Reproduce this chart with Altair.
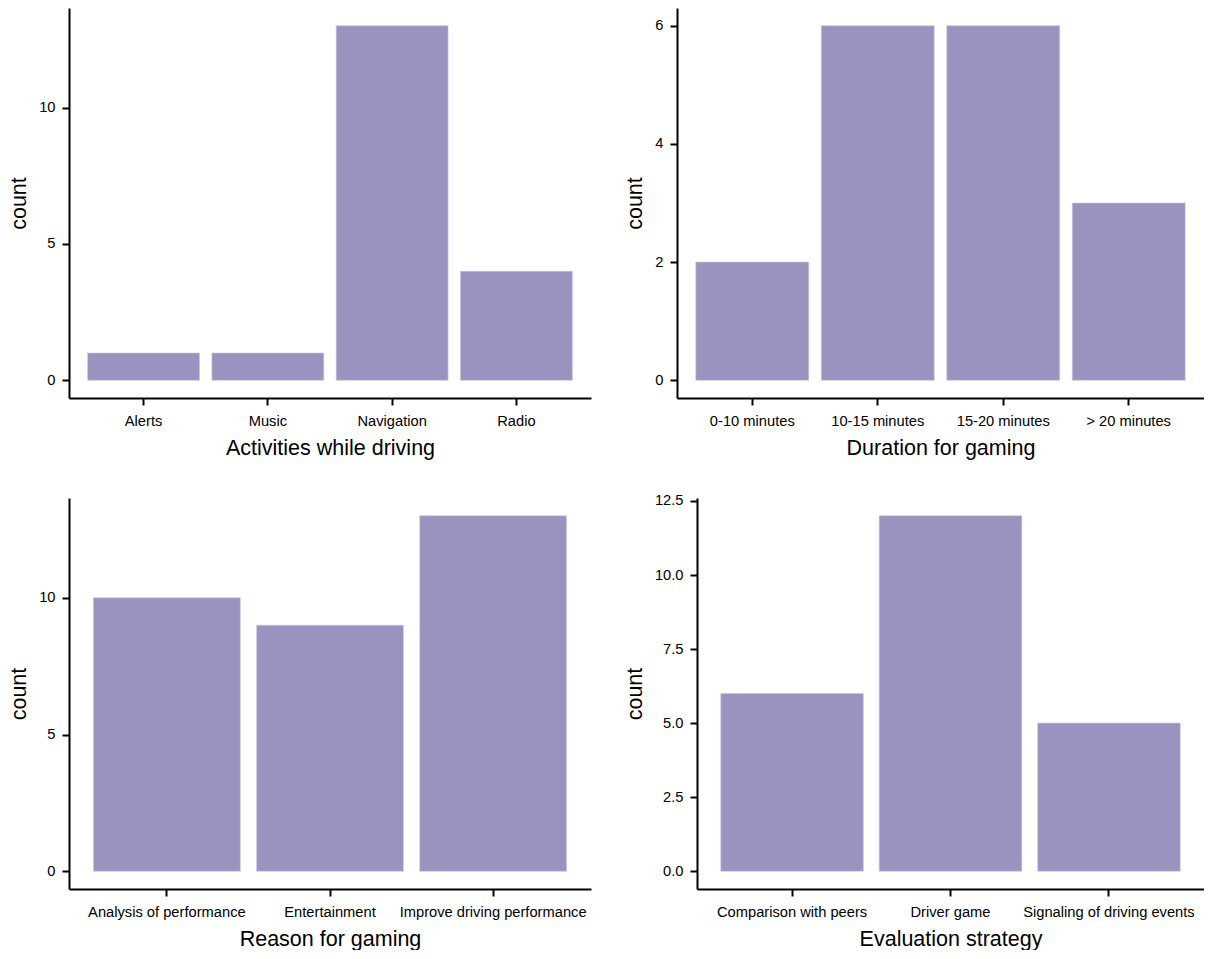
import altair as alt
import pandas as pd

act_cats = ["Alerts", "Music", "Navigation", "Radio"]
act_counts = [1, 1, 13, 4]
dur_cats = ["0-10 minutes", "10-15 minutes", "15-20 minutes", "> 20 minutes"]
dur_counts = [2, 6, 6, 3]
reason_cats = ["Analysis of performance", "Entertainment", "Improve driving performance"]
reason_counts = [10, 9, 13]
eval_cats = ["Comparison with peers", "Driver game", "Signaling of driving events"]
eval_counts = [6, 12, 5]

BAR = "#9A93BF"
FONT = "Liberation Sans"


def panel(cats, counts, xtitle, yticks, yfmt, width, height):
    df = pd.DataFrame({"cat": cats, "count": counts})
    ymax = max(counts)
    pad = ymax * 0.05
    return (
        alt.Chart(df)
        .mark_bar(color=BAR, stroke="#c9c5e0", strokeWidth=0.6)
        .encode(
            x=alt.X(
                "cat:N",
                sort=cats,
                title=xtitle,
                scale=alt.Scale(paddingInner=0.1, paddingOuter=0.15),
                axis=alt.Axis(labelAngle=0, labelPadding=8, titlePadding=9.4),
            ),
            y=alt.Y(
                "count:Q",
                title="count",
                scale=alt.Scale(domain=[-pad, ymax + pad], nice=False, zero=False),
                axis=alt.Axis(values=yticks, format=yfmt, labelPadding=7, titlePadding=8),
            ),
            y2=alt.datum(0),
        )
        .properties(width=width, height=height)
    )


tl = panel(act_cats, act_counts, "Activities while driving", [0, 5, 10], "d", 522, 390)
tr = panel(dur_cats, dur_counts, "Duration for gaming", [0, 2, 4, 6], "d", 527, 390)
bl = panel(reason_cats, reason_counts, "Reason for gaming", [0, 5, 10], "d", 522, 391)
br = panel(eval_cats, eval_counts, "Evaluation strategy", [0, 2.5, 5, 7.5, 10, 12.5], ".1f", 507, 391)

chart = (
    alt.vconcat(
        alt.hconcat(tl, tr, spacing=33),
        alt.hconcat(bl, br, spacing=33),
        spacing=33,
    )
    .properties(padding=0)
    .configure_view(stroke=None)
    .configure_axis(
        grid=False,
        domainColor="#000000",
        domainWidth=2,
        tickColor="#000000",
        tickWidth=2,
        tickSize=7,
        labelFont=FONT,
        labelFontSize=14.7,
        labelColor="#000000",
        labelOverlap=False,
        labelBound=False,
        labelFlush=False,
        labelLimit=0,
        titleFont=FONT,
        titleFontSize=21.5,
        titleFontWeight="normal",
        titleColor="#000000",
    )
)

chart.save("out.html", embed_options={"renderer": "svg", "actions": False})
